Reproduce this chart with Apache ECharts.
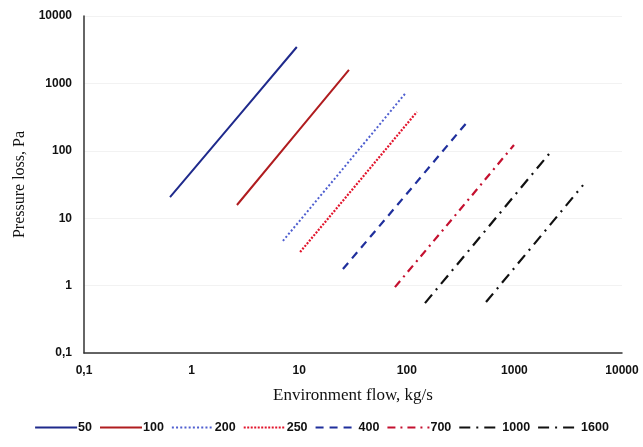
<!DOCTYPE html>
<html>
<head>
<meta charset="utf-8">
<script src="https://cdn.jsdelivr.net/npm/echarts@6/dist/echarts.min.js"></script>
<style>
    html, body { margin: 0; padding: 0; background: #fff; }
    #chart { width: 643px; height: 447px; }
</style>
</head>
<body>
<div id="chart"></div>
<script>
// pipe sizes (legend names)
const names = ['50', '100', '200', '250', '400', '700', '1000', '1600'];

// [flow kg/s, pressure loss Pa]
const d50 = [[0.63, 20.6], [1, 49], [3, 390], [9.5, 3470]];
const d100 = [[2.64, 15.7], [10, 204], [29, 1585]];
const d200 = [[7.06, 4.6], [30, 74], [96, 697]];
const d250 = [[10.2, 3.15], [40, 43], [124, 377]];
const d400 = [[25.5, 1.76], [100, 23], [371, 277]];
const d700 = [[77.6, 0.95], [300, 12.4], [991, 122]];
const d1000 = [[147.6, 0.55], [500, 5.7], [2100, 90]];
const d1600 = [[545, 0.57], [1500, 4.0], [4345, 31]];

const allData = [d50, d100, d200, d250, d400, d700, d1000, d1600];

const styles = [
    {color: '#1f2a8c', type: 'solid', width: 2},
    {color: '#b01c1f', type: 'solid', width: 2},
    {color: '#4f5fd0', type: [2, 2.2], width: 2},
    {color: '#e2142c', type: [2, 1.5], width: 2.2},
    {color: '#1f2f9c', type: [8, 6], width: 2.2},
    {color: '#c4102f', type: [8, 5, 2, 5], width: 2.2},
    {color: '#111111', type: [11, 6, 2, 6], width: 2.2},
    {color: '#111111', type: [11, 6, 2, 6], width: 2.2}
];

function fmt(v) {
    return String(v).replace('.', ',');
}

const chart = echarts.init(document.getElementById('chart'));

let option = {
    animation: false,
    backgroundColor: '#fff',
    grid: {
        left: 84,
        right: 21,
        top: 16,
        bottom: 94
    },
    legend: {
        bottom: 8,
        left: 'center',
        itemWidth: 42,
        itemHeight: 10,
        itemGap: 7,
        itemStyle: {opacity: 0},
        textStyle: {
            fontFamily: 'Liberation Sans',
            fontWeight: 'bold',
            fontSize: 12.5,
            color: '#111',
            padding: [0, 0, 0, -4]
        },
        data: names
    },
    xAxis: {
        type: 'log',
        logBase: 10,
        min: 0.1,
        max: 10000,
        name: 'Environment flow, kg/s',
        nameLocation: 'middle',
        nameGap: 34,
        nameTextStyle: {
            fontFamily: 'Liberation Serif',
            fontSize: 17,
            color: '#111'
        },
        axisLine: {lineStyle: {color: '#333', width: 1.5}},
        axisTick: {show: false},
        splitLine: {show: false},
        axisLabel: {
            formatter: fmt,
            margin: 12,
            fontFamily: 'Liberation Sans',
            fontWeight: 'bold',
            fontSize: 12,
            color: '#111'
        }
    },
    yAxis: {
        type: 'log',
        logBase: 10,
        min: 0.1,
        max: 10000,
        name: 'Pressure loss, Pa',
        nameLocation: 'middle',
        nameGap: 56,
        nameTextStyle: {
            fontFamily: 'Liberation Serif',
            fontSize: 16,
            color: '#111'
        },
        axisLine: {show: true, lineStyle: {color: '#333', width: 1.5}},
        axisTick: {show: false},
        splitLine: {show: true, lineStyle: {color: '#f2f2f2', width: 1}},
        axisLabel: {
            formatter: fmt,
            margin: 12,
            fontFamily: 'Liberation Sans',
            fontWeight: 'bold',
            fontSize: 12,
            color: '#111'
        }
    },
    series: names.map(function (n, i) {
        return {
            name: n,
            type: 'line',
            data: allData[i],
            symbol: 'none',
            showSymbol: false,
            smooth: false,
            itemStyle: {color: styles[i].color},
            lineStyle: {
                color: styles[i].color,
                type: styles[i].type,
                width: styles[i].width
            }
        };
    })
};

option && chart.setOption(option);
</script>
</body>
</html>
